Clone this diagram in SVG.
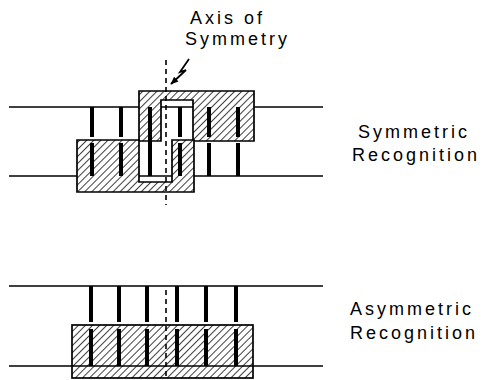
<svg xmlns="http://www.w3.org/2000/svg" width="484" height="380" viewBox="0 0 484 380">
  <style>
    .strand { stroke: #000; stroke-width: 1.7; fill: none; }
    .bp { stroke: #000; stroke-width: 4; stroke-linecap: butt; }
    .protein { fill: url(#hatch); stroke: #000; stroke-width: 1.7; }
    .axis { stroke: #000; stroke-width: 1.6; stroke-dasharray: 5 4; fill: none; }
    .label { font-family: "Liberation Sans", Arial, sans-serif; font-size: 18px; fill: #000; letter-spacing: 3px; }
  </style>
  <defs>
    <pattern id="hatch" width="5" height="5" patternUnits="userSpaceOnUse" patternTransform="rotate(45)">
      <rect width="5" height="5" fill="#fff"/>
      <line x1="0" y1="0" x2="0" y2="5" stroke="#000" stroke-width="1.5"/>
    </pattern>
    <marker id="head" viewBox="0 0 10 10" refX="9" refY="5" markerWidth="8" markerHeight="8" orient="auto-start-reverse" markerUnits="userSpaceOnUse">
      <path d="M0,1 L10,5 L0,9 Z" fill="#000"/>
    </marker>
  </defs>

  <!-- Symmetric recognition: two DNA strands, two protein subunits -->
  <g id="sym-dna">
    <line class="strand" x1="9" y1="107" x2="323" y2="107"/>
    <line class="strand" x1="9" y1="176" x2="323" y2="176"/>
  </g>
  <g id="sym-protein-top">
    <path class="protein" d="M139,91 H254 V141 H193 V100 H161 V141 H139 Z"/>
  </g>
  <g id="sym-protein-bottom">
    <path class="protein" d="M77,140 H139 V182 H172 V140 H194 V192 H77 Z"/>
  </g>
  <g id="sym-basepairs">
    <line class="bp" x1="92" y1="107" x2="92" y2="137"/>
    <line class="bp" x1="121" y1="107" x2="121" y2="137"/>
    <line class="bp" x1="150" y1="107" x2="150" y2="176"/>
    <line class="bp" x1="180" y1="107" x2="180" y2="137"/>
    <line class="bp" x1="209" y1="107" x2="209" y2="137"/>
    <line class="bp" x1="238" y1="107" x2="238" y2="137"/>
    <line class="bp" x1="92" y1="143" x2="92" y2="176"/>
    <line class="bp" x1="121" y1="143" x2="121" y2="176"/>
    <line class="bp" x1="180" y1="143" x2="180" y2="176"/>
    <line class="bp" x1="209" y1="143" x2="209" y2="176"/>
    <line class="bp" x1="238" y1="143" x2="238" y2="176"/>
  </g>
  <g id="sym-axis">
    <line class="axis" x1="166" y1="60" x2="166" y2="205"/>
  </g>
  <g id="axis-label">
    <text class="label" x="190" y="24">Axis of</text>
    <text class="label" x="185" y="45">Symmetry</text>
  </g>
  <g id="connectors">
    <path d="M189,59 L180,72 L186,70 L171,84" fill="none" stroke="#000" stroke-width="1.8" marker-end="url(#head)"/>
  </g>
  <g id="sym-label">
    <text class="label" x="358" y="138">Symmetric</text>
    <text class="label" x="352" y="161">Recognition</text>
  </g>

  <!-- Asymmetric recognition: one protein block under the strands -->
  <g id="asym-protein">
    <rect class="protein" x="72" y="325" width="181" height="53"/>
  </g>
  <g id="asym-dna">
    <line class="strand" x1="9" y1="286" x2="323" y2="286"/>
    <line class="strand" x1="9" y1="366" x2="323" y2="366"/>
  </g>
  <g id="asym-basepairs">
    <line class="bp" x1="91" y1="286" x2="91" y2="322"/>
    <line class="bp" x1="119" y1="286" x2="119" y2="322"/>
    <line class="bp" x1="147" y1="286" x2="147" y2="322"/>
    <line class="bp" x1="177" y1="286" x2="177" y2="322"/>
    <line class="bp" x1="206" y1="286" x2="206" y2="322"/>
    <line class="bp" x1="236" y1="286" x2="236" y2="322"/>
    <line class="bp" x1="91" y1="329" x2="91" y2="366"/>
    <line class="bp" x1="119" y1="329" x2="119" y2="366"/>
    <line class="bp" x1="147" y1="329" x2="147" y2="366"/>
    <line class="bp" x1="177" y1="329" x2="177" y2="366"/>
    <line class="bp" x1="206" y1="329" x2="206" y2="366"/>
    <line class="bp" x1="236" y1="329" x2="236" y2="366"/>
  </g>
  <g id="asym-axis">
    <line class="axis" x1="166" y1="290" x2="166" y2="380"/>
  </g>
  <g id="asym-label">
    <text class="label" x="350" y="315">Asymmetric</text>
    <text class="label" x="350" y="339">Recognition</text>
  </g>
</svg>
